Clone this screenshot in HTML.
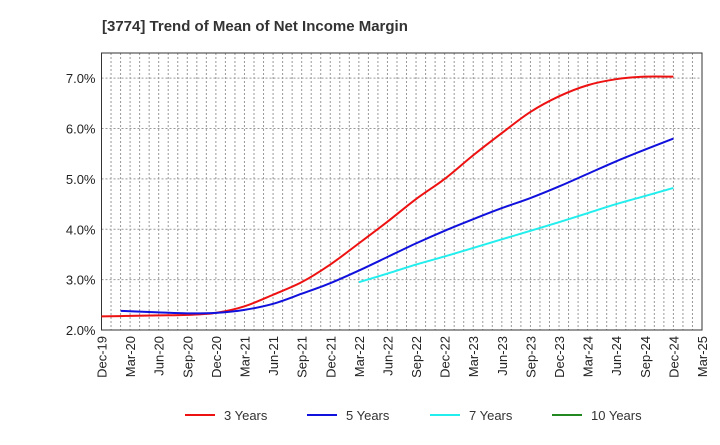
<!DOCTYPE html>
<html><head><meta charset="utf-8"><style>
body{margin:0;background:#fff;font-family:"Liberation Sans",sans-serif}
</style></head><body>
<svg id="c" width="720" height="440" xmlns="http://www.w3.org/2000/svg">
<text x="102" y="31" font-size="15" font-weight="bold" fill="#333">[3774]  Trend of Mean of Net Income Margin</text>
<g id="grid"></g><g id="axes"></g><g id="series"></g><g id="legend"></g>
</svg>
<script>
const xLabels=["Dec-19","Mar-20","Jun-20","Sep-20","Dec-20","Mar-21","Jun-21","Sep-21","Dec-21","Mar-22","Jun-22","Sep-22","Dec-22","Mar-23","Jun-23","Sep-23","Dec-23","Mar-24","Jun-24","Sep-24","Dec-24","Mar-25"];
const yTicks=[2,3,4,5,6,7];
const s3=[2.27,2.28,2.29,2.30,2.34,2.47,2.70,2.95,3.30,3.72,4.15,4.60,5.00,5.47,5.91,6.33,6.64,6.86,6.98,7.03,7.03];
const s5=[null,2.38,2.35,2.33,2.34,2.40,2.52,2.72,2.93,3.18,3.45,3.72,3.97,4.20,4.42,4.62,4.85,5.10,5.35,5.58,5.80];
const s7=[null,null,null,null,null,null,null,null,null,2.95,3.12,3.30,3.46,3.63,3.80,3.97,4.14,4.32,4.50,4.66,4.82];
const s10=[];
const L=101.5,R=702,T=53,B=330;
const x=i=>L+(R-L)*i/21;
const y=v=>B-(v-2)*(B-T)/5.5;
const ns="http://www.w3.org/2000/svg";
function mk(p,t,a){const e=document.createElementNS(ns,t);for(const k in a)e.setAttribute(k,a[k]);p.appendChild(e);return e;}
const g=document.getElementById('grid'),ax=document.getElementById('axes'),se=document.getElementById('series'),lg=document.getElementById('legend');
for(let m=1;m<63;m++){const l=mk(g,'line',{x1:L+(R-L)*m/63,x2:L+(R-L)*m/63,y1:T,y2:B,stroke:'#999','stroke-dasharray':'2,2','stroke-width':1});

}
yTicks.forEach(v=>{if(v>2){const l=mk(g,'line',{x1:L,x2:R,y1:y(v),y2:y(v),stroke:'#999','stroke-dasharray':'2,2'});

}
const t=mk(ax,'text',{x:L-6,y:y(v)+5,'text-anchor':'end','font-size':13,fill:'#222'});t.textContent=v.toFixed(1)+'%';

});
const fr=mk(ax,'rect',{x:L,y:T,width:R-L,height:B-T,fill:'none',stroke:'#333','stroke-width':1});


xLabels.forEach((s,i)=>{const t=mk(ax,'text',{transform:`translate(${x(i)+5},${B+6}) rotate(-90)`,'text-anchor':'end','font-size':13,fill:'#222'});t.textContent=s;

});
function line(d,c,n,firstShift){const pts=[];let first=true;d.forEach((v,i)=>{if(v!=null){pts.push([x(first?i-firstShift:i),y(v)]);first=false;}});if(pts.length<2)return;
let p='M'+pts[0];for(let i=1;i<pts.length;i++){const p0=pts[i-2]||pts[i-1],p1=pts[i-1],p2=pts[i],p3=pts[i+1]||p2;
p+=` C${p1[0]+(p2[0]-p0[0])/6},${p1[1]+(p2[1]-p0[1])/6} ${p2[0]-(p3[0]-p1[0])/6},${p2[1]-(p3[1]-p1[1])/6} ${p2[0]},${p2[1]}`;}
const e=mk(se,'path',{d:p,fill:'none',stroke:c,'stroke-width':2});

}
line(s3,'#ee1111','line-3-years',0);line(s5,'#1111dd','line-5-years',0.33);line(s7,'#22eeee','line-7-years',0);line(s10,'#228822','line-10-years',0);
[['3 Years','#ee1111',185],['5 Years','#1111dd',307],['7 Years','#22eeee',430],['10 Years','#228822',552]].forEach(([n,c,lx])=>{
const l=mk(lg,'line',{x1:lx,x2:lx+30,y1:415,y2:415,stroke:c,'stroke-width':2});


const t=mk(lg,'text',{x:lx+39,y:420,'font-size':13,fill:'#333'});t.textContent=n;

});
</script>
</body></html>
